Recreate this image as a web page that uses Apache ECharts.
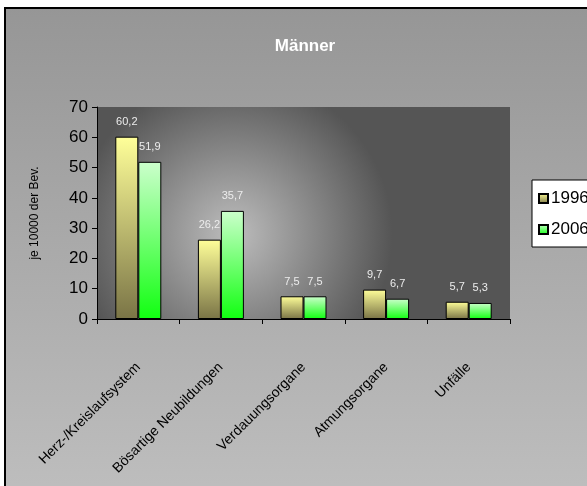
<!DOCTYPE html>
<html>
<head>
<meta charset="utf-8">
<script src="https://cdn.jsdelivr.net/npm/echarts@6/dist/echarts.min.js"></script>
<style>
  html, body { margin: 0; padding: 0; background: #fff; }
  #chart { width: 587px; height: 486px; }
</style>
</head>
<body>
<div id="chart"></div>
<script>
var categories = ['Herz-/Kreislaufsystem', 'Bösartige Neubildungen', 'Verdauungsorgane', 'Atmungsorgane', 'Unfälle'];
var values1996 = [60.2, 26.2, 7.5, 9.7, 5.7];
var values2006 = [51.9, 35.7, 7.5, 6.7, 5.3];
var seriesNames = ['1996', '2006'];

var narrow = '"Liberation Sans Narrow", "Arial Narrow", "Liberation Sans", Arial, sans-serif';

function grad(top, bottom) {
    return new echarts.graphic.LinearGradient(0, 0, 0, 1, [
        {offset: 0, color: top},
        {offset: 1, color: bottom}
    ]);
}

function commaLabel(p) {
    return String(p.value).replace('.', ',');
}

var chart = echarts.init(document.getElementById('chart'));
var option = {
    backgroundColor: '#ffffff',
    animation: false,
    graphic: [
        {
            type: 'rect',
            z: -10,
            shape: {x: 5, y: 8, width: 600, height: 500},
            style: {
                fill: grad('#969696', '#bfbfbf'),
                stroke: '#000',
                lineWidth: 2
            }
        }
    ],
    title: {
        text: 'Männer',
        left: 300,
        textAlign: 'center',
        top: 33,
        textStyle: {color: '#fff', fontSize: 17, fontWeight: 'bold', fontFamily: narrow}
    },
    legend: {
        data: seriesNames,
        orient: 'vertical',
        left: 532,
        top: 180,
        backgroundColor: '#fff',
        borderColor: '#000',
        borderWidth: 1,
        padding: [10, 8, 9, 6],
        itemGap: 14,
        itemWidth: 9,
        itemHeight: 9,
        icon: 'rect',
        textStyle: {color: '#000', fontSize: 17, fontFamily: narrow, padding: [0, 0, 0, -2]}
    },
    grid: {
        left: 97,
        right: 77,
        top: 107,
        bottom: 167,
        show: true,
        borderWidth: 0,
        backgroundColor: new echarts.graphic.RadialGradient(0.33, 0.6, 0.75, [
            {offset: 0, color: '#bdbdbd'},
            {offset: 1, color: '#555555'}
        ])
    },
    xAxis: {
        type: 'category',
        data: categories,
        axisLine: {lineStyle: {color: '#000', width: 1}},
        axisTick: {show: true, length: 5, lineStyle: {color: '#000'}},
        axisLabel: {
            rotate: 45,
            margin: 46,
            interval: 0,
            color: '#000',
            fontSize: 14,
            fontFamily: narrow
        }
    },
    yAxis: {
        type: 'value',
        min: 0,
        max: 70,
        interval: 10,
        name: 'je 10000 der Bev.',
        nameLocation: 'middle',
        nameGap: 56,
        nameTextStyle: {color: '#000', fontSize: 12, fontFamily: 'Liberation Sans, Arial, sans-serif'},
        axisLine: {show: true, lineStyle: {color: '#000', width: 1}},
        axisTick: {show: true, length: 5, lineStyle: {color: '#000'}},
        splitLine: {show: false},
        axisLabel: {color: '#000', fontSize: 17, fontFamily: narrow, margin: 9}
    },
    series: [
        {
            name: seriesNames[0],
            type: 'bar',
            data: values1996,
            barWidth: 23,
            barGap: '0%',
            itemStyle: {color: grad('#ffff99', '#7a7446'), borderColor: '#000', borderWidth: 1},
            label: {
                show: true,
                position: 'top',
                distance: 9,
                color: '#ececec',
                fontSize: 11,
                fontFamily: narrow,
                formatter: commaLabel
            }
        },
        {
            name: seriesNames[1],
            type: 'bar',
            data: values2006,
            barWidth: 23,
            itemStyle: {color: grad('#ccffcc', '#11ff11'), borderColor: '#000', borderWidth: 1},
            label: {
                show: true,
                position: 'top',
                distance: 9,
                color: '#ececec',
                fontSize: 11,
                fontFamily: narrow,
                formatter: commaLabel
            }
        }
    ]
};
chart.setOption(option);
window.onresize = chart.resize;
</script>
</body>
</html>
